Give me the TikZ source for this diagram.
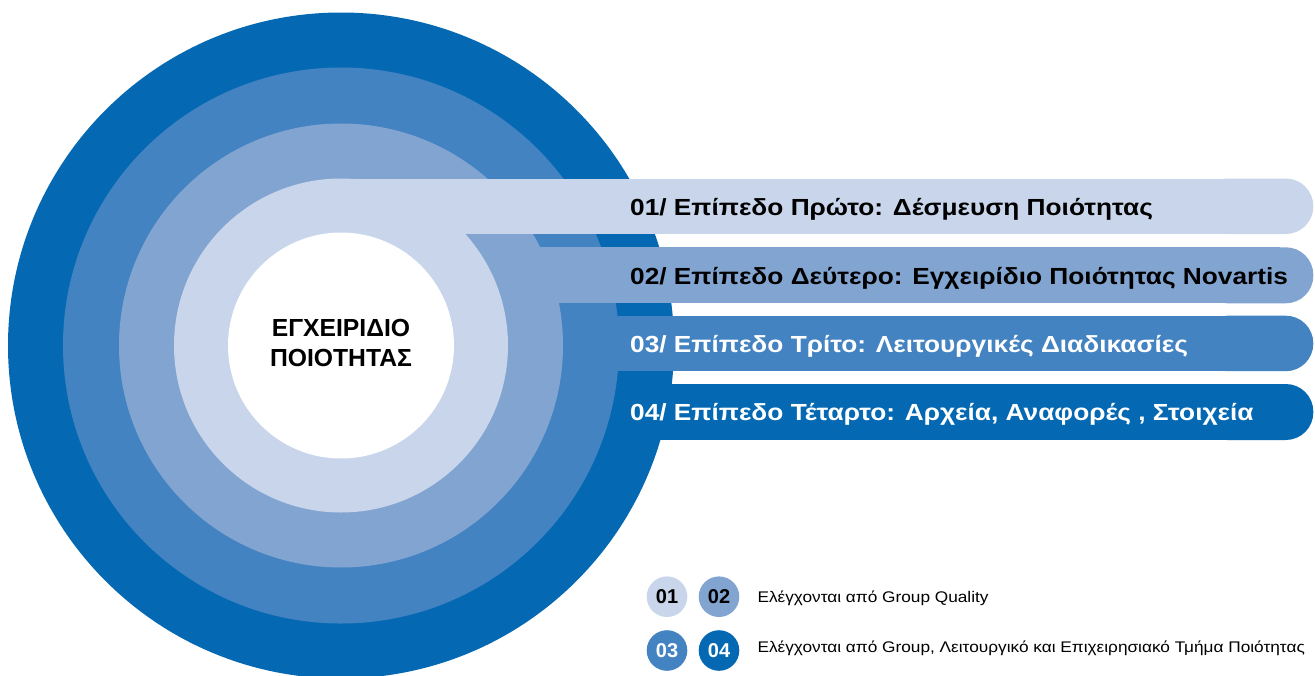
\documentclass[tikz,border=0pt]{standalone}
\usepackage{fontspec}
\setmainfont{Liberation Sans}
\newfontfamily\bandfont[FakeStretch=1.127]{Liberation Sans}
\newfontfamily\legfont[FakeStretch=1.12]{Liberation Sans}
\definecolor{cA}{HTML}{C8D5EB}
\definecolor{cB}{HTML}{82A4D1}
\definecolor{cC}{HTML}{4383C1}
\definecolor{cD}{HTML}{0469B2}
\tikzset{
  bandend/.style={rounded corners=27.5pt},
  bandtext/.style={anchor=base west, inner sep=0pt, font=\bandfont\fontsize{23.3}{28}\selectfont\bfseries},
  legcirc/.style={circle, minimum size=40.6pt, inner sep=0pt, font=\fontsize{20}{24}\selectfont\bfseries},
  legtext/.style={anchor=base west, inner sep=0pt, font=\legfont\fontsize{15.4}{18}\selectfont},
}
\begin{document}
\begin{tikzpicture}[x=1pt,y=-1pt]
\useasboundingbox (0,0) rectangle (1315,675);
\coordinate (c) at (341,345.5);
% outer ring and band 4
\fill[cD] (c) circle[radius=333];
\fill[cD] (341,384) rectangle (1280,440);
\fill[cD, bandend] (1200,384) rectangle (1313.3,440);
% ring 2 and band 3
\fill[cC] (c) circle[radius=278];
\fill[cC] (341,315.7) rectangle (1280,371.2);
\fill[cC, bandend] (1200,315.7) rectangle (1313.3,371.2);
% ring 3 and band 2
\fill[cB] (c) circle[radius=222];
\fill[cB] (341,247.3) rectangle (1280,303.3);
\fill[cB, bandend] (1200,247.3) rectangle (1313.3,303.3);
% light ring and band 1
\fill[cA] (c) circle[radius=167];
\fill[cA] (341,178.5) rectangle (1280,234);
\fill[cA, bandend] (1200,178.5) rectangle (1313.3,234);
% white centre
\fill[white] (c) circle[radius=113];
\node[align=center, inner sep=0pt, font=\fontsize{24.7}{30}\selectfont\bfseries] (centre) at (341,343) {ΕΓΧΕΙΡΙΔΙΟ\\ΠΟΙΟΤΗΤΑΣ};
% band texts
\node[bandtext, text=black] (t1) at (630,215) {01/ Επίπεδο Πρώτο: Δέσμευση Ποιότητας};
\node[bandtext, text=black] (t2) at (630,284) {02/ Επίπεδο Δεύτερο: Εγχειρίδιο Ποιότητας Novartis};
\node[bandtext, text=white] (t3) at (630,352) {03/ Επίπεδο Τρίτο: Λειτουργικές Διαδικασίες};
\node[bandtext, text=white] (t4) at (630,420.5) {04/ Επίπεδο Τέταρτο: Αρχεία, Αναφορές , Στοιχεία};
% legend
\node[legcirc, fill=cA, text=black] (l1) at (667,596.7) {01};
\node[legcirc, fill=cB, text=black] (l2) at (719,596.7) {02};
\node[legcirc, fill=cC, text=white] (l3) at (667,650.5) {03};
\node[legcirc, fill=cD, text=white] (l4) at (719,650.5) {04};
\node[legtext] (lt1) at (757.3,602.7) {Ελέγχονται από Group Quality};
\node[legtext] (lt2) at (757.3,652.7) {Ελέγχονται από Group, Λειτουργικό και Επιχειρησιακό Τμήμα Ποιότητας};
\end{tikzpicture}
\end{document}
